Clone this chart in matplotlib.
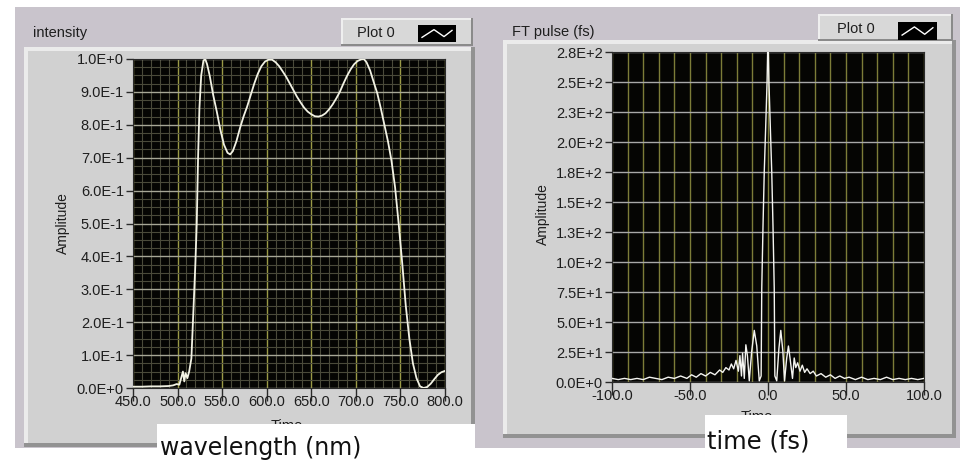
import matplotlib.pyplot as plt
from matplotlib.patches import Rectangle
from matplotlib.ticker import MultipleLocator

W, H = 963, 463

# --- spectrum (intensity vs wavelength) ---
wavelength_nm = [450, 460, 470, 480, 490, 495, 499, 502, 504, 506, 507.5, 509, 511, 513,
                 515.5, 518, 520, 521.5, 523, 524.5, 526.5, 529, 531, 533, 536, 540, 544,
                 548, 552, 556, 559, 562, 566, 570, 574, 578, 582, 586, 590, 594, 598, 602,
                 606, 610, 614, 618, 622, 626, 630, 634, 638, 642, 646, 650, 654, 658, 662,
                 666, 670, 674, 678, 682, 686, 690, 694, 698, 702, 706, 709, 712, 716, 720,
                 724, 728, 732, 736, 740, 744, 748, 752, 756, 760, 764, 768, 772, 776, 780,
                 784, 788, 792, 796, 800]
intensity = [0.004, 0.004, 0.005, 0.005, 0.006, 0.008, 0.012, 0.010, 0.030, 0.050, 0.020,
             0.045, 0.030, 0.050, 0.090, 0.250, 0.380, 0.500, 0.700, 0.850, 0.950, 0.995,
             1.000, 0.985, 0.950, 0.890, 0.840, 0.785, 0.740, 0.715, 0.710, 0.720, 0.750,
             0.790, 0.825, 0.855, 0.890, 0.925, 0.955, 0.978, 0.992, 0.998, 0.998, 0.990,
             0.978, 0.962, 0.945, 0.925, 0.905, 0.885, 0.868, 0.852, 0.840, 0.832, 0.826,
             0.825, 0.828, 0.835, 0.847, 0.862, 0.880, 0.900, 0.925, 0.948, 0.968, 0.984,
             0.994, 0.999, 1.000, 0.990, 0.965, 0.930, 0.896, 0.850, 0.800, 0.750, 0.690,
             0.610, 0.500, 0.380, 0.250, 0.150, 0.075, 0.030, 0.005, 0.000, 0.003, 0.013,
             0.027, 0.040, 0.048, 0.052]

spec_xticks = [450, 500, 550, 600, 650, 700, 750, 800]
spec_xlabels = ["450.0", "500.0", "550.0", "600.0", "650.0", "700.0", "750.0", "800.0"]
spec_yticks = [0.0, 0.1, 0.2, 0.3, 0.4, 0.5, 0.6, 0.7, 0.8, 0.9, 1.0]
spec_ylabels = ["0.0E+0", "1.0E-1", "2.0E-1", "3.0E-1", "4.0E-1", "5.0E-1",
                "6.0E-1", "7.0E-1", "8.0E-1", "9.0E-1", "1.0E+0"]

# --- FT pulse (amplitude vs time) ---
time_fs = [-100, -96, -92, -88, -84, -80, -76, -72, -68, -64, -60, -56, -52, -49, -46,
           -43, -40, -37, -34, -31, -29, -27, -25, -23.5, -22, -20.5, -19, -18, -17,
           -16.3, -15.2, -14.2, -13.2, -12, -10.5, -8.8, -7.2, -5.6, -4.4, -4.0, -3.2,
           -2.4, -1.5, -0.6, 0, 0.6, 1.5, 2.4, 3.2, 4.0, 4.4, 5.6, 7.0, 8.2, 9.5, 10.6,
           12.0, 13.1, 14.3, 15.7, 16.8, 17.8, 19, 20.5, 22, 23.5, 25, 27, 29, 31, 34,
           37, 40, 43, 46, 49, 52, 56, 60, 64, 68, 72, 76, 80, 84, 88, 92, 96, 100]
ft_amplitude = [3, 2, 3, 2, 3, 2, 4, 3, 2, 4, 3, 5, 3, 6, 4,
                7, 5, 8, 6, 10, 8, 12, 10, 15, 11, 18, 9, 22, 5,
                24, 3, 31, 22, 1, 25, 43, 30, 1, 5, 78, 130,
                175, 212, 250, 290, 250, 212, 175, 130, 78, 5, 1, 28, 43, 26, 1,
                20, 30, 18, 3, 20, 12, 16, 9, 14, 8, 11, 7, 9, 5, 7,
                4, 6, 3, 5, 3, 4, 2, 4, 2, 3, 2, 4, 2, 3, 2, 3, 2, 3]

ft_xticks = [-100, -50, 0, 50, 100]
ft_xlabels = ["-100.0", "-50.0", "0.0", "50.0", "100.0"]
ft_yticks = [0, 25, 50, 75, 100, 125, 150, 175, 200, 225, 250, 275]
ft_ylabels = ["0.0E+0", "2.5E+1", "5.0E+1", "7.5E+1", "1.0E+2", "1.3E+2",
              "1.5E+2", "1.8E+2", "2.0E+2", "2.3E+2", "2.5E+2", "2.8E+2"]

LV_FONT = "Liberation Sans"
plt.rcParams["font.family"] = LV_FONT

fig = plt.figure(figsize=(W / 100, H / 100), dpi=100)
fig.patch.set_facecolor("white")


def frac_box(x0, y0, x1, y1):
    # pixel box (top-left origin) -> figure fraction [l, b, w, h]
    return [x0 / W, 1 - y1 / H, (x1 - x0) / W, (y1 - y0) / H]


def rect(x0, y0, x1, y1, color, z):
    l, b, w, h = frac_box(x0, y0, x1, y1)
    fig.patches.append(Rectangle((l, b), w, h, transform=fig.transFigure,
                                 facecolor=color, edgecolor="none", zorder=z))


def text_px(x, y, s, **kw):
    return fig.text(x / W, 1 - y / H, s, **kw)


def bevel(x0, y0, x1, y1, face, light, dark, z, t=3):
    rect(x0, y0, x1, y1, face, z)
    rect(x0, y0, x1, y0 + t, light, z + 0.1)
    rect(x0, y0, x0 + t, y1, light, z + 0.1)
    rect(x1 - t, y0, x1, y1, dark, z + 0.1)
    rect(x0, y1 - t, x1, y1, dark, z + 0.1)


# window background
rect(15, 7, 960, 448, "#c9c4cc", -20)


def graph(frame, plot_box, legend_box, swatch_box, title, title_xy, plot_xy):
    bevel(*frame, "#d1d1d1", "#ebebeb", "#929292", -15, t=4)
    bevel(*legend_box, "#d8d8d8", "#efefef", "#8a8a8a", -12, t=2)
    text_px(*title_xy, title, fontsize=10.5, color="#1e1e1e", va="center", ha="left")
    text_px(*plot_xy, "Plot 0", fontsize=10.5, color="#1e1e1e", va="center", ha="left")

    sw = fig.add_axes(frac_box(*swatch_box))
    sw.set_facecolor("black")
    sw.plot([0, 1.2, 2.2, 3], [0.3, 0.8, 0.35, 0.75], color="white", lw=1.0)
    sw.set_xlim(-0.4, 3.4)
    sw.set_ylim(0, 1.1)
    sw.set_xticks([])
    sw.set_yticks([])
    for s in sw.spines.values():
        s.set_visible(False)

    ax = fig.add_axes(frac_box(*plot_box))
    ax.set_facecolor("#050503")
    for s in ax.spines.values():
        s.set_color("#2a2a2a")
        s.set_linewidth(0.8)
    ax.tick_params(axis="both", which="major", direction="out", color="#2a2a2a",
                   width=1, labelsize=10.5, labelcolor="#1e1e1e")
    ax.tick_params(axis="y", which="major", length=5, pad=1.5)
    ax.tick_params(axis="x", which="major", length=9, pad=-4)
    ax.tick_params(which="minor", length=0)
    ax.set_axisbelow(True)
    return ax


# left graph: spectrum
ax1 = graph((24, 47, 475, 447), (133, 59, 445, 388), (341, 18, 473, 46),
            (418, 25, 456, 42), "intensity", (33, 33), (357, 33))
ax1.plot(wavelength_nm, intensity, color="#f2f2e4", lw=1.3, zorder=3)
ax1.set_xlim(450, 800)
ax1.set_ylim(0, 1.0)
ax1.set_xticks(spec_xticks, spec_xlabels)
ax1.set_yticks(spec_yticks, spec_ylabels)
ax1.xaxis.set_minor_locator(MultipleLocator(10))
ax1.yaxis.set_minor_locator(MultipleLocator(0.025))
ax1.grid(which="minor", color="#4a4a3a", lw=0.8)
ax1.grid(which="major", axis="x", color="#9a9a46", lw=1.0)
ax1.grid(which="major", axis="y", color="#a6a696", lw=1.0)
ax1.set_ylabel("Amplitude", fontsize=10, color="#1e1e1e")
ax1.yaxis.set_label_coords(-0.203, 0.5)

# right graph: FT pulse
ax2 = graph((503, 40, 956, 438), (612, 52, 924, 382), (818, 14, 953, 41),
            (898, 22, 937, 40), "FT pulse (fs)", (512, 32), (837, 29))
ax2.plot(time_fs, ft_amplitude, color="#f4f4f0", lw=1.0, zorder=3)
ax2.set_xlim(-100, 100)
ax2.set_ylim(0, 275)
ax2.set_xticks(ft_xticks, ft_xlabels)
ax2.set_yticks(ft_yticks, ft_ylabels)
ax2.xaxis.set_minor_locator(MultipleLocator(10))
ax2.grid(which="both", axis="x", color="#7c7c38", lw=1.0)
ax2.grid(which="major", axis="y", color="#a8a8a8", lw=1.0)
ax2.set_ylabel("Amplitude", fontsize=10, color="#1e1e1e")
ax2.yaxis.set_label_coords(-0.200, 0.51)

# x-axis names, partly covered by the caption boxes
text_px(287, 419, "Time", fontsize=10.5, color="#1e1e1e", ha="center", va="top", zorder=4)
text_px(757, 410, "Time", fontsize=10.5, color="#1e1e1e", ha="center", va="top", zorder=4)

rect(157, 424, 475, 463, "white", 5)
rect(705, 415, 847, 451, "white", 5)
text_px(160, 455, "wavelength (nm)", fontsize=17, family="DejaVu Sans",
        color="#111111", ha="left", va="baseline", zorder=6)
text_px(707, 448, "time (fs)", fontsize=17.5, family="DejaVu Sans",
        color="#111111", ha="left", va="baseline", zorder=6)

fig.savefig("out.png", dpi=100, facecolor=fig.get_facecolor())
